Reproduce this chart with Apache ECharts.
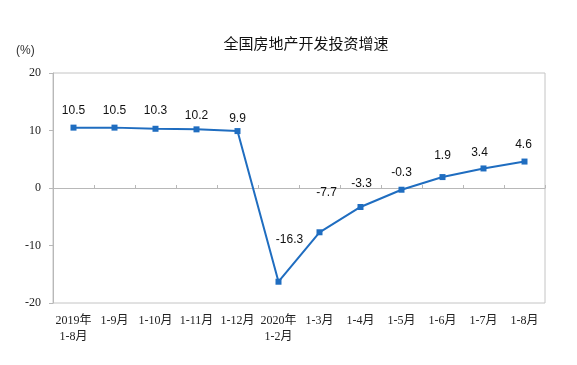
<!DOCTYPE html>
<html><head><meta charset="utf-8">
<script src="https://cdn.jsdelivr.net/npm/echarts@6/dist/echarts.min.js"></script>
<style>html,body{margin:0;padding:0;background:#fff}#c{width:577px;height:365px}</style>
</head><body><div id="c"></div>
<script>
const categories = ['2019年\n1-8月','1-9月','1-10月','1-11月','1-12月','2020年\n1-2月','1-3月','1-4月','1-5月','1-6月','1-7月','1-8月'];
const values = [10.5,10.5,10.3,10.2,9.9,-16.3,-7.7,-3.3,-0.3,1.9,3.4,4.6];
const yTicks = [-20,-10,0,10,20];
// label placement relative to each point (style only)
const labelOffsets = [[0,-17],[0,-17],[0,-18],[0,-14],[0,-12],[11,-42],[7,-40],[1,-23],[0,-17],[0,-21],[-4,-16],[-1,-17]];
const chart = echarts.init(document.getElementById('c'));
chart.setOption({
  animation:false,
  backgroundColor:'#fff',
  title:{text:'全国房地产开发投资增速',left:301,top:31,textAlign:'center',textStyle:{fontSize:15,fontWeight:'normal',color:'#111',fontFamily:'Noto Sans CJK SC'}},
  graphic:[{type:'text',x:16,y:51,style:{text:'(%)',fontSize:12,fill:'#333',verticalAlign:'middle',fontFamily:'Liberation Sans'}}],
  grid:{left:53,right:32,top:73,bottom:62,show:true,borderColor:'#c4c4c4',borderWidth:1},
  xAxis:{type:'category',data:categories,boundaryGap:true,
    axisLine:{lineStyle:{color:'#b8b8b8'}},axisTick:{show:true,length:3,inside:true,lineStyle:{color:'#b8b8b8'}},
    axisLabel:{color:'#222',fontSize:12,margin:10,lineHeight:16,interval:0,fontFamily:'Liberation Serif, Noto Sans CJK SC'}},
  yAxis:{type:'value',min:-20,max:20,interval:10,
    axisLine:{show:true,lineStyle:{color:'#b8b8b8'}},axisTick:{show:true,length:4,lineStyle:{color:'#b8b8b8'}},
    splitLine:{show:false},
    axisLabel:{color:'#222',fontSize:12,margin:12,fontFamily:'Liberation Serif',
      formatter:v=>yTicks.includes(v)?String(v):''}},
  series:[{type:'line',symbol:'rect',symbolSize:6,
    data:values.map((v,i)=>({value:v,label:{offset:labelOffsets[i]}})),
    lineStyle:{color:'#1f6dc0',width:2},itemStyle:{color:'#1f6dc0'},
    label:{show:true,position:'inside',align:'center',verticalAlign:'middle',color:'#111',fontSize:12,fontFamily:'Liberation Sans',
      formatter:p=>p.value.toFixed(1)}}]
});
</script></body></html>
